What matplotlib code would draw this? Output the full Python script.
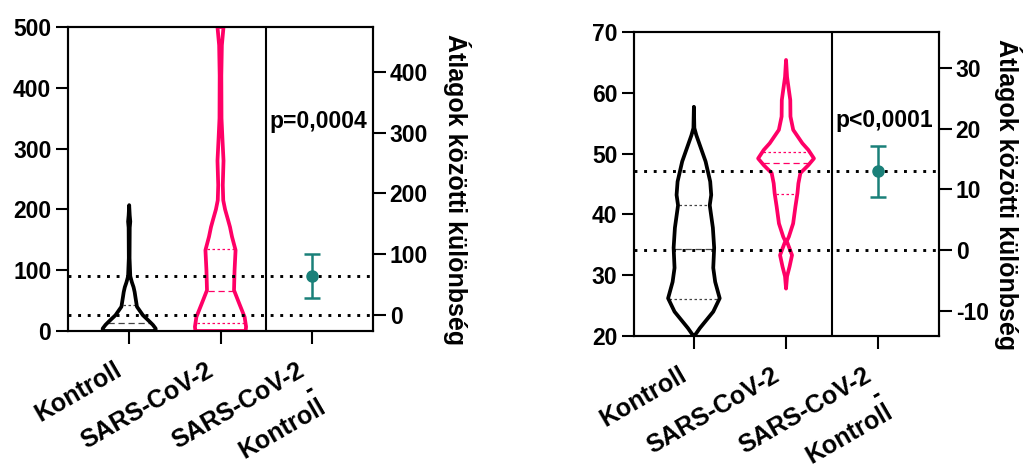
import numpy as np
import matplotlib.pyplot as plt
import matplotlib.transforms as mtransforms

plt.rcParams['font.family'] = ['Liberation Sans', 'DejaVu Sans']
plt.rcParams['font.weight'] = 'bold'
plt.rcParams['axes.unicode_minus'] = False

PINK = '#ff0066'
TEAL = '#1a8079'

groups = ['Kontroll', 'SARS-CoV-2', 'SARS-CoV-2\n-\nKontroll']
rlabel = 'Átlagok közötti különbség'

# ---- panel 1: violin outlines (value, half width)
k1_y = [0, 4, 10, 16, 26, 40, 56, 64, 72, 80, 90, 120, 170, 180, 190, 207]
k1_w = [0.29, 0.29, 0.26, 0.22, 0.15, 0.085, 0.068, 0.06, 0.048, 0.03, 0.012, 0.004, 0.006, 0.012, 0.006, 0.0]
s1_y = [0, 7, 23, 46, 67, 100, 133, 155, 171, 183, 200, 215, 240, 280, 320, 350, 420, 470, 500]
s1_w = [0.275, 0.28, 0.264, 0.203, 0.148, 0.154, 0.165, 0.126, 0.104, 0.082, 0.05, 0.03, 0.025, 0.033, 0.02, 0.011, 0.009, 0.015, 0.033]
k1_med, k1_q = 13, [43]
s1_med, s1_q = 66, [13, 135]
k1_mean, s1_mean = 26.3, 90.5
d1_ci = [28.5, 100.0]
p1 = 'p=0,0004'

# ---- panel 2
k2_y = [20, 21.3, 24, 26.2, 28.9, 31.2, 34.5, 37.8, 41.5, 43.2, 45.4, 48.7, 53, 54.2, 57.7]
k2_w = [0.005, 0.065, 0.21, 0.28, 0.231, 0.21, 0.22, 0.206, 0.172, 0.188, 0.177, 0.127, 0.027, 0.005, 0.0]
s2_y = [27.8, 29.8, 31.4, 33.3, 35.6, 36.3, 38.5, 41.3, 43.5, 45.1, 46.8, 48.1, 49.2, 50.6, 51.7, 53.9, 56.1, 58.8, 62.6, 65.4]
s2_w = [0.0, 0.011, 0.038, 0.065, 0.008, 0.03, 0.077, 0.102, 0.124, 0.134, 0.156, 0.242, 0.303, 0.242, 0.177, 0.078, 0.048, 0.046, 0.011, 0.0]
k2_med, k2_q = 34.3, [26.1, 41.6]
s2_med, s2_q = 48.5, [43.4, 50.2]
k2_mean, s2_mean = 34.1, 47.1
d2_ci = [8.7, 17.2]
p2 = 'p<0,0001'

FS = 16.5


def violin(ax, x0, ys, ws, color, med, quarts, qcolor):
    ys = np.asarray(ys, float)
    ws = np.asarray(ws, float)
    px = np.concatenate([x0 + ws, (x0 - ws)[::-1]])
    py = np.concatenate([ys, ys[::-1]])
    ax.fill(px, py, facecolor='none', edgecolor=color, lw=2.7,
            joinstyle='round', zorder=3)
    w = np.interp(med, ys, ws) - 0.012
    ax.plot([x0 - w, x0 + w], [med, med], color=qcolor, lw=0.9,
            ls=(0, (5, 3)), zorder=2)
    for q in quarts:
        w = np.interp(q, ys, ws) - 0.012
        ax.plot([x0 - w, x0 + w], [q, q], color=qcolor, lw=0.9,
                ls=(0, (2, 2)), zorder=2)


def panel(rect, xlim, ylim, yticks, rticks, kv, sv, kmean, smean, ci, ptxt, ppos, labx):
    ax = fig.add_axes(rect)
    ax2 = ax.twinx()
    violin(ax, 0, kv[0], kv[1], 'black', kv[2], kv[3], '#444444')
    violin(ax, 1, sv[0], sv[1], PINK, sv[2], sv[3], PINK)
    for m in (kmean, smean):
        ax.axhline(m, color='black', lw=2.1, ls=(0, (1, 2.3)), zorder=4)
    ax.axvline(1.5, color='black', lw=1.5)
    ax.set_xlim(*xlim)
    ax.set_ylim(*ylim)
    ax.set_yticks(yticks)
    ax.set_xticks([0, 1, 2])
    ax.set_xticklabels([])
    # rotated category labels, anchored at their upper right corner
    trans = ax.get_xaxis_transform() + mtransforms.ScaledTranslation(
        -0.15, -0.27, fig.dpi_scale_trans)
    for i, g in enumerate(groups):
        ax.text(i, 0, g, transform=trans, rotation=30, ha='right', va='top',
                rotation_mode='anchor', multialignment='right',
                linespacing=0.85, fontsize=18)
    d = smean - kmean
    ax2.set_ylim(ylim[0] - kmean, ylim[1] - kmean)
    ax2.set_yticks(rticks)
    ax2.errorbar([2], [d], yerr=[[d - ci[0]], [ci[1] - d]], fmt='o',
                 color=TEAL, ms=8, capsize=5.5, lw=1.8, capthick=1.8, zorder=5)
    ax2.set_ylabel(rlabel, rotation=270, fontsize=18, fontweight='bold', va='center')
    ax2.yaxis.set_label_coords(labx, 0.465)
    ax.text(ppos[0], ppos[1], ptxt, transform=ax.transAxes, ha='center',
            va='center', fontsize=FS)
    for a in (ax, ax2):
        for s in a.spines.values():
            s.set_linewidth(1.5)
        a.tick_params(width=1.5, length=9, pad=3)
        a.tick_params(axis='y', labelsize=FS)
    return ax


fig = plt.figure(figsize=(10.26, 4.70), dpi=100)
panel([68 / 1026, 139 / 470, 305 / 1026, 304 / 470], (-0.67, 2.67), (0, 500),
      [0, 100, 200, 300, 400, 500], [0, 100, 200, 300, 400],
      (k1_y, k1_w, k1_med, k1_q), (s1_y, s1_w, s1_med, s1_q),
      k1_mean, s1_mean, d1_ci, p1, (0.821, 0.69), 1.275)
panel([634 / 1026, 134 / 470, 305 / 1026, 304 / 470], (-0.65, 2.66), (20, 70),
      [20, 30, 40, 50, 60, 70], [-10, 0, 10, 20, 30],
      (k2_y, k2_w, k2_med, k2_q), (s2_y, s2_w, s2_med, s2_q),
      k2_mean, s2_mean, d2_ci, p2, (0.82, 0.71), 1.226)
fig.savefig('out.png', dpi=100)
